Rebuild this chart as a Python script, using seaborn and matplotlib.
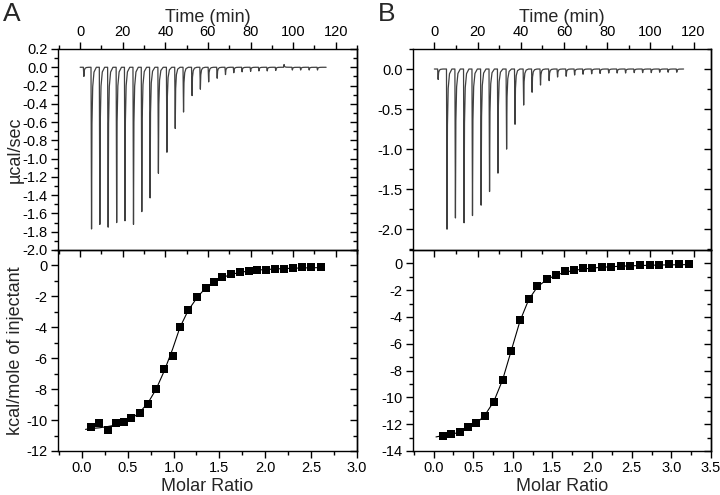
import numpy as np
import pandas as pd
import matplotlib
matplotlib.use("Agg")
import matplotlib.pyplot as plt
import seaborn as sns
from matplotlib.ticker import MultipleLocator

# ---- data ----
# panel A raw thermogram: injection times (min) and peak heights (ucal/sec)
inj_time_a = [1.5, 5.1, 9.0, 12.9, 16.9, 20.8, 24.8, 28.7, 32.6, 36.5, 40.5, 44.4, 48.3, 52.3, 56.2,
              60.1, 64.1, 68.0, 71.9, 75.8, 79.8, 83.7, 87.6, 91.6, 95.5, 99.4, 103.3, 107.3, 111.2]
peak_a = [-0.10, -1.77, -1.72, -1.75, -1.70, -1.68, -1.72, -1.58, -1.43, -1.16, -0.93, -0.67, -0.49, -0.31, -0.24,
          -0.16, -0.12, -0.08, -0.06, -0.05, -0.045, -0.04, -0.04, -0.035, 0.03, -0.03, -0.03, -0.03, -0.03]
trace_end_a = 115.5

# panel A integrated heats (kcal/mol) and fit
ratio_a = [0.10, 0.19, 0.28, 0.37, 0.46, 0.54, 0.63, 0.72, 0.81, 0.90, 0.99, 1.07, 1.16, 1.26,
           1.35, 1.44, 1.53, 1.63, 1.72, 1.82, 1.91, 2.01, 2.11, 2.20, 2.30, 2.40, 2.50, 2.61]
heat_a = [-10.42, -10.2, -10.64, -10.2, -10.1, -9.88, -9.56, -8.96, -8.0, -6.69, -5.85, -3.99, -2.89, -2.05,
          -1.49, -1.04, -0.76, -0.56, -0.45, -0.35, -0.28, -0.28, -0.22, -0.22, -0.15, -0.13, -0.13, -0.09]
fit_x_a = [0.04, 0.10, 0.19, 0.28, 0.37, 0.46, 0.54, 0.63, 0.72, 0.81, 0.90, 0.99, 1.07, 1.16, 1.26,
           1.35, 1.44, 1.53, 1.63, 1.72, 1.82, 1.91, 2.01, 2.11, 2.20, 2.30, 2.40, 2.50, 2.61]
fit_y_a = [-10.6, -10.55, -10.5, -10.42, -10.32, -10.15, -9.92, -9.5, -8.9, -8.0, -6.8, -5.4, -4.0, -2.9, -2.05,
           -1.45, -1.05, -0.78, -0.58, -0.45, -0.36, -0.30, -0.26, -0.23, -0.20, -0.18, -0.16, -0.15, -0.14]

# panel B raw thermogram
inj_time_b = [1.5, 5.6, 9.5, 13.5, 17.4, 21.4, 25.3, 29.2, 33.2, 37.1, 41.1, 45.0, 48.9, 52.9, 56.8,
              60.8, 64.7, 68.6, 72.6, 76.5, 80.5, 84.4, 88.3, 92.3, 96.2, 100.2, 104.1, 108.0, 112.0]
peak_b = [-0.13, -2.0, -1.86, -1.92, -1.83, -1.70, -1.53, -1.30, -1.00, -0.69, -0.45, -0.29, -0.20, -0.145, -0.10,
          -0.09, -0.075, -0.065, -0.06, -0.055, -0.05, -0.05, -0.05, -0.045, -0.045, -0.045, -0.04, -0.04, -0.04]
trace_end_b = 115.4

# panel B integrated heats and fit
ratio_b = [0.12, 0.22, 0.33, 0.43, 0.54, 0.65, 0.76, 0.87, 0.98, 1.09, 1.20, 1.31, 1.43, 1.54,
           1.66, 1.77, 1.89, 2.00, 2.12, 2.24, 2.36, 2.48, 2.60, 2.73, 2.85, 2.97, 3.09, 3.22]
heat_b = [-12.88, -12.7, -12.57, -12.2, -11.88, -11.36, -10.34, -8.72, -6.5, -4.21, -2.62, -1.72, -1.2, -0.87,
          -0.6, -0.52, -0.37, -0.32, -0.25, -0.27, -0.17, -0.17, -0.12, -0.12, -0.15, -0.07, -0.07, -0.07]
fit_x_b = [0.03, 0.12, 0.22, 0.33, 0.43, 0.54, 0.65, 0.76, 0.87, 0.98, 1.09, 1.20, 1.31, 1.43, 1.54,
           1.66, 1.77, 1.89, 2.00, 2.12, 2.24, 2.36, 2.48, 2.60, 2.73, 2.85, 2.97, 3.09, 3.22]
fit_y_b = [-12.95, -12.85, -12.75, -12.6, -12.35, -11.95, -11.3, -10.3, -8.7, -6.5, -4.3, -2.7, -1.75, -1.2, -0.88,
           -0.66, -0.52, -0.42, -0.35, -0.29, -0.25, -0.21, -0.18, -0.16, -0.14, -0.12, -0.11, -0.10, -0.09]

# shape of one injection spike (time offset in min, fraction of peak)
spike_dt = [0.0, 0.25, 0.45, 0.8, 1.4, 2.5]
spike_frac = [0.0, 1.0, 0.35, 0.12, 0.03, 0.0]


def thermogram(times, peaks, t_end):
    t = [0.0]
    y = [0.0]
    for ti, p in zip(times, peaks):
        for dt, f in zip(spike_dt, spike_frac):
            t.append(ti + dt)
            y.append(p * f)
    t.append(t_end)
    y.append(0.0)
    return pd.DataFrame({"time": t, "power": y})


sns.set_style("ticks")
plt.rcParams["font.family"] = ["Liberation Sans", "DejaVu Sans"]
plt.rcParams["axes.unicode_minus"] = False
plt.rcParams["axes.linewidth"] = 1.0
plt.rcParams["axes.edgecolor"] = "black"
plt.rcParams["xtick.color"] = "black"
plt.rcParams["ytick.color"] = "black"

fig = plt.figure(figsize=(7.2, 4.95), dpi=100)

label_fs = 13
tick_fs = 10.5


def style_ticks(ax, xmaj, xmin, ymaj, ymin):
    ax.xaxis.set_major_locator(MultipleLocator(xmaj))
    ax.xaxis.set_minor_locator(MultipleLocator(xmin))
    ax.yaxis.set_major_locator(MultipleLocator(ymaj))
    ax.yaxis.set_minor_locator(MultipleLocator(ymin))
    ax.tick_params(which="major", length=5, width=1, labelsize=tick_fs, direction="out", pad=2.5)
    ax.tick_params(which="minor", length=3, width=1, direction="out")
    sec = ax.secondary_yaxis("right")
    sec.yaxis.set_major_locator(MultipleLocator(ymaj))
    sec.yaxis.set_minor_locator(MultipleLocator(ymin))
    sec.tick_params(which="major", length=5, width=1, direction="in", labelright=False)
    sec.tick_params(which="minor", length=3, width=1, direction="in")
    ax.set_facecolor("none")


panels = [
    dict(left=58 / 720, width=299 / 720, times=inj_time_a, peaks=peak_a, t_end=trace_end_a,
         ratio=ratio_a, heat=heat_a, fx=fit_x_a, fy=fit_y_a,
         txlim=(-10.4, 130), tylim=(-2.0, 0.2), tymaj=0.2, tymin=0.1,
         bxlim=(-0.26, 3.0), bylim=(-12, 1), letter="A", lx=3 / 720, ylabels=True),
    dict(left=413 / 720, width=298 / 720, times=inj_time_b, peaks=peak_b, t_end=trace_end_b,
         ratio=ratio_b, heat=heat_b, fx=fit_x_b, fy=fit_y_b,
         txlim=(-9.9, 128.1), tylim=(-2.26, 0.25), tymaj=0.5, tymin=0.25,
         bxlim=(-0.26, 3.5), bylim=(-14, 1), letter="B", lx=378 / 720, ylabels=False),
]

for p in panels:
    ax_bot = fig.add_axes([p["left"], 44 / 495, p["width"], 201 / 495])
    ax_top = fig.add_axes([p["left"], 245 / 495, p["width"], 201 / 495])

    # raw heat trace
    df = thermogram(p["times"], p["peaks"], p["t_end"])
    sns.lineplot(data=df, x="time", y="power", ax=ax_top, color="#404040", linewidth=0.9,
                 estimator=None, sort=False)
    ax_top.set_xlim(*p["txlim"])
    ax_top.set_ylim(*p["tylim"])
    style_ticks(ax_top, 20, 10, p["tymaj"], p["tymin"])
    ax_top.tick_params(axis="x", which="both", top=True, bottom=True, labeltop=True, labelbottom=False)
    ax_top.xaxis.set_label_position("top")
    ax_top.set_xlabel("Time (min)", fontsize=label_fs, labelpad=2)
    ax_top.yaxis.set_major_formatter(matplotlib.ticker.FormatStrFormatter("%.1f"))
    if p["ylabels"]:
        ax_top.set_ylabel("\u00b5cal/sec", fontsize=label_fs)
        ax_top.yaxis.set_label_coords(-0.115, 0.5)
    else:
        ax_top.set_ylabel("")

    # integrated heats with fit
    fit = pd.DataFrame({"ratio": p["fx"], "heat": p["fy"]})
    pts = pd.DataFrame({"ratio": p["ratio"], "heat": p["heat"]})
    sns.lineplot(data=fit, x="ratio", y="heat", ax=ax_bot, color="black", linewidth=0.8,
                 estimator=None, sort=False)
    sns.scatterplot(data=pts, x="ratio", y="heat", ax=ax_bot, marker="s", s=30, color="black",
                    edgecolor="black", linewidth=0, zorder=3)
    ax_bot.set_xlim(*p["bxlim"])
    ax_bot.set_ylim(*p["bylim"])
    style_ticks(ax_bot, 0.5, 0.25, 2, 1)
    ax_bot.set_xlabel("Molar Ratio", fontsize=label_fs, labelpad=2)
    if p["ylabels"]:
        ax_bot.set_ylabel("kcal/mole of injectant", fontsize=label_fs)
        ax_bot.yaxis.set_label_coords(-0.115, 0.5)
    else:
        ax_bot.set_ylabel("")

    fig.text(p["lx"], 0.995, p["letter"], fontsize=19, va="top", ha="left")

fig.savefig("out.png", dpi=100)
